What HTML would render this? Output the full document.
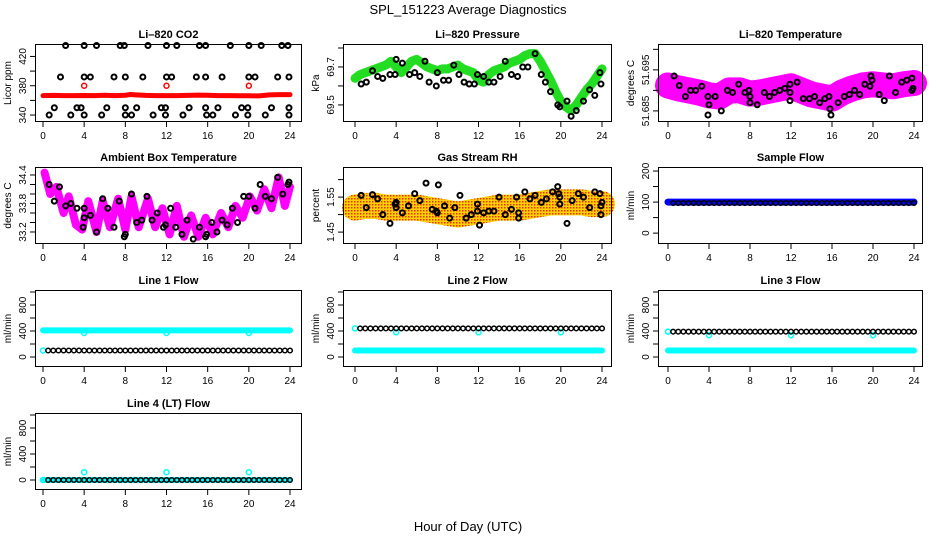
<!DOCTYPE html>
<html><head><meta charset="utf-8"><style>
html,body{margin:0;padding:0;background:#fff;}
svg{display:block;font-family:"Liberation Sans",Arial,sans-serif;}
</style></head><body>
<svg id="c" width="936" height="540" viewBox="0 0 936 540" xmlns="http://www.w3.org/2000/svg">
<defs>
<pattern id="rhpat" width="3" height="3" patternUnits="userSpaceOnUse">
<rect width="3" height="3" fill="#ffd000"/><rect width="1.5" height="1.5" fill="#e83000"/>
</pattern>
</defs>
<text x="468" y="14" text-anchor="middle" font-size="13">SPL_151223  Average Diagnostics</text>
<text x="468" y="531" text-anchor="middle" font-size="13">Hour of Day (UTC)</text>
</svg>
<script>
// ---------- data ----------
const hoursTicks = [0,4,8,12,16,20,24];
// CO2
const co2BlackX = [2.2,4,5.2,7.5,7.9,10.2,12,13,15.2,15.8,18.2,20,21.2,23.2,23.8, 1.7,4,4.6,6.9,8,9.7,12,12.5,14.9,15.8,17.4,20,20.6,22.8,23.9, 1.1,3.3,3.7,6.2,8,9.1,11.5,11.9,14.2,15.8,17,19.3,19.9,22.2,23.9, 0.6,2.7,4,5.7,8,8.6,10.7,11.9,13.6,15.9,16.5,18.7,19.9,21.6,23.9];
const co2BlackY = [435,435,435,435,435,435,435,435,435,435,435,435,435,435,435, 392,392,392,392,392,392,392,392,392,392,392,392,392,392,392, 350,350,350,350,350,350,350,350,350,350,350,350,350,350,350, 340,340,340,340,340,340,340,340,340,340,340,340,340,340,340];
const co2RedX = [0,1,2,3,4,5,6,7,8,8.5,9,10,11,12,13,14,15,16,17,18,19,20,21,22,23,24];
const co2RedY = [366.5,366.8,366.5,366.5,366.7,366.5,367,366.5,367,368,367.5,366.8,366.5,366.5,366.5,366.8,367.2,367,366.5,366.5,366.3,366.3,366.2,367.5,367.8,367.8];
const co2RedPtX = [4,12,20];
const co2RedPtY = [380,380,380];
// Pressure
const presX = [0,0.5,1,1.5,2,2.5,3,3.5,4,4.5,5,5.5,6,6.5,7,7.5,8,8.5,9,9.5,10,10.5,11,11.5,12,12.5,13,13.5,14,14.5,15,15.5,16,16.5,17,17.5,18,18.5,19,19.5,20,20.5,21,21.5,22,22.5,23,23.5,24];
const presY = [69.64,69.66,69.67,69.68,69.69,69.70,69.71,69.73,69.70,69.67,69.70,69.73,69.74,69.72,69.70,69.69,69.68,69.69,69.69,69.70,69.71,69.69,69.68,69.67,69.63,69.62,69.66,69.68,69.69,69.70,69.72,69.73,69.74,69.76,69.77,69.77,69.73,69.68,69.63,69.57,69.52,69.49,69.47,69.50,69.54,69.58,69.61,69.65,69.69];
const presBX = [0.6,1.1,1.7,2.2,2.7,3.4,3.9,4.0,4.6,5.3,5.8,6.3,6.8,7.2,7.9,8,8.6,9.1,9.6,10.1,10.6,11.1,11.6,11.9,12.5,13.0,13.5,14.1,14.6,15.2,15.8,16.3,16.8,17.5,18.1,18.5,19.0,19.7,19.9,20.6,21.0,21.5,22.2,22.8,23.3,23.8,23.9];
const presBY = [69.61,69.62,69.68,69.65,69.64,69.66,69.66,69.74,69.72,69.66,69.67,69.65,69.73,69.62,69.60,69.67,69.63,69.63,69.71,69.66,69.62,69.61,69.61,69.66,69.65,69.62,69.62,69.65,69.73,69.66,69.65,69.70,69.70,69.77,69.66,69.62,69.57,69.50,69.49,69.52,69.44,69.47,69.52,69.58,69.55,69.67,69.61];
// Li-820 temperature
const ltX = [0,1,2,3,4,5,6,7,8,9,10,11,12,13,14,15,16,17,18,19,20,21,22,23,24];
const ltY = [51.6912,51.6905,51.690,51.6895,51.6888,51.6885,51.6900,51.6900,51.6892,51.6895,51.6900,51.6905,51.6910,51.6900,51.6890,51.6885,51.6880,51.6895,51.6905,51.6912,51.6915,51.6912,51.6910,51.6915,51.6918];
const ltBX = [0.6,1.1,1.7,2.2,2.7,3.3,3.9,4.0,3.9,4.6,5.2,5.8,6.3,6.9,7.5,7.9,8.0,8.0,8.7,9.4,9.9,10.4,10.9,11.4,11.9,11.9,11.9,12.6,13.2,13.8,14.3,14.8,15.3,15.7,15.8,15.9,16.6,17.2,17.7,18.2,18.7,19.2,19.7,19.8,19.9,20.6,21.1,21.6,22.2,22.8,23.3,23.8,23.8,23.9];
const ltBY = [51.6935,51.6912,51.6885,51.690,51.690,51.691,51.6885,51.6865,51.684,51.6885,51.685,51.690,51.6895,51.6915,51.6895,51.690,51.6885,51.687,51.6865,51.6895,51.6885,51.6895,51.690,51.6905,51.6915,51.6895,51.6875,51.692,51.688,51.688,51.6885,51.687,51.688,51.6885,51.6855,51.684,51.687,51.6885,51.689,51.690,51.689,51.6915,51.691,51.6935,51.6925,51.689,51.6875,51.6935,51.6895,51.692,51.6925,51.693,51.690,51.6905];
// Ambient box temperature
const abX = [0.15,0.7,1.3,2.0,2.5,3.2,3.8,4.4,5.2,5.8,6.5,7.3,8.0,8.6,9.3,10.2,10.9,11.6,12.3,13.0,13.7,14.4,15.1,15.8,16.5,17.3,18.0,18.7,19.4,20.1,20.8,21.5,22.2,22.9,23.5,24.0];
const abY = [34.45,34.0,34.15,33.6,33.95,33.35,33.25,33.85,33.2,33.85,33.3,33.9,33.25,33.95,33.3,33.9,33.3,33.7,33.15,33.75,33.1,33.55,33.1,33.5,33.15,33.6,33.3,33.75,33.5,33.95,33.65,34.1,33.7,34.35,33.75,34.15];
const abBX = [0.6,1.1,1.6,2.2,2.7,3.3,3.9,4.0,4.0,4.6,5.2,5.8,6.3,6.9,7.4,7.9,8.0,8.6,9.1,9.6,10.1,10.6,11.1,11.7,11.9,12.4,12.9,13.5,14.0,14.6,15.2,15.8,15.9,16.4,16.9,17.4,17.9,18.4,18.9,19.5,20.0,20.6,21.1,21.6,22.2,22.8,23.3,23.8,23.9];
const abBY = [34.2,33.85,34.15,33.75,33.8,33.7,33.3,33.5,33.7,33.55,33.2,33.9,33.7,33.3,33.85,33.1,33.15,34.0,33.4,33.45,33.95,33.45,33.6,33.3,33.35,33.7,33.3,33.15,33.45,33.05,33.3,33.1,33.15,33.4,33.2,33.45,33.35,33.7,33.4,33.95,33.95,33.7,34.2,33.95,33.9,34.35,34.0,34.2,34.25];
// Gas stream RH
const rhX = [0,1,2,3,4,5,6,7,8,9,10,11,12,13,14,15,16,17,18,19,20,21,22,23,24];
const rhY = [1.52,1.525,1.525,1.52,1.52,1.52,1.52,1.515,1.51,1.505,1.50,1.505,1.51,1.515,1.52,1.52,1.52,1.525,1.53,1.535,1.535,1.535,1.535,1.53,1.53];
const rhBX = [0.6,1.1,1.7,2.2,2.7,3.4,3.9,4.0,4.0,4.6,5.2,5.8,6.3,6.9,7.5,7.9,8.0,8.1,8.7,9.2,9.7,10.2,10.8,11.3,11.9,11.9,12.1,12.5,13.0,13.5,14.0,14.6,15.2,15.7,15.9,15.9,16.5,17.0,17.5,18.1,18.6,19.2,19.7,19.8,19.9,19.9,20.6,21.1,21.7,22.2,22.8,23.3,23.8,23.9,23.9,24];
const rhBY = [1.555,1.52,1.557,1.545,1.50,1.475,1.53,1.535,1.52,1.505,1.525,1.56,1.54,1.59,1.515,1.51,1.505,1.585,1.525,1.49,1.52,1.555,1.49,1.50,1.53,1.51,1.47,1.505,1.51,1.51,1.55,1.50,1.515,1.55,1.49,1.505,1.565,1.545,1.555,1.535,1.545,1.565,1.58,1.56,1.55,1.53,1.475,1.54,1.56,1.55,1.52,1.565,1.56,1.525,1.50,1.535];
// Flows: [colored band level, black level]
const sampleFlow = [100, 97];
const line1Flow = [410, 100];
const line2Flow = [100, 440];
const line3Flow = [100, 390];
const line4Flow = [0, 0];
const line1Dips = [4,12,20]; const line1DipY = [370,370,370];
const line2Dips = [4,12,20]; const line2DipY = [380,380,380];
const line3Dips = [4,12,20]; const line3DipY = [335,335,335];
const line4Dips = [4,12,20]; const line4DipY = [120,120,120];
const flowBlackTimes = [0.5,1,1.5,2,2.5,3,3.5,4,4.5,5,5.5,6,6.5,7,7.5,8,8.5,9,9.5,10,10.5,11,11.5,12,12.5,13,13.5,14,14.5,15,15.5,16,16.5,17,17.5,18,18.5,19,19.5,20,20.5,21,21.5,22,22.5,23,23.5,24];

// ---------- drawing ----------
const svg = document.getElementById('c');
const NS = 'http://www.w3.org/2000/svg';
function mk(tag, attrs, parent){const e=document.createElementNS(NS,tag);for(const k in attrs)e.setAttribute(k,attrs[k]);(parent||svg).appendChild(e);return e;}

const cols = [{bl:35,br:302,x0:43,x1:290},{bl:343,br:612,x0:355,x1:602},{bl:658,br:923,x0:668,x1:914}];
const rows = [{bt:44,bb:122},{bt:167,bb:244},{bt:290,bb:367},{bt:413,bb:490}];

function panel(name,title,ylab,c,r,ymin,ymax,ticks,labels){
  const C=cols[c],R=rows[r];
  const g=mk('g',{});
  
  
  const sx=h=>C.x0+(C.x1-C.x0)*h/24;
  const sy=v=>R.bb-(v-ymin)/(ymax-ymin)*(R.bb-R.bt);
  const t=mk('text',{x:(C.bl+C.br)/2,y:R.bt-6,'text-anchor':'middle','font-size':11,'font-weight':'bold'},g);
  t.textContent=title;
  
  
  const yl=mk('text',{x:0,y:0,'text-anchor':'middle','font-size':10,transform:`translate(${C.bl-24},${(R.bt+R.bb)/2}) rotate(-90)`},g);
  yl.textContent=ylab;
  
  
  const plot=mk('g',{},g);
  const ax=mk('g',{stroke:'#000','stroke-width':1,fill:'none'},g);
  
  
  mk('rect',{x:C.bl+0.5,y:R.bt+0.5,width:C.br-C.bl-1,height:R.bb-R.bt-1},ax);
  hoursTicks.forEach(h=>{
    mk('line',{x1:sx(h),x2:sx(h),y1:R.bb,y2:R.bb+5},ax);
    const tl=mk('text',{x:sx(h),y:R.bb+17,'text-anchor':'middle','font-size':10,fill:'#000',stroke:'none'},g);
    tl.textContent=h;
    
    
  });
  ticks.forEach(v=>{
    mk('line',{x1:C.bl-5,x2:C.bl,y1:sy(v),y2:sy(v)},ax);
    if(labels.indexOf(v)>=0){
      const tl=mk('text',{x:0,y:0,'text-anchor':'middle','font-size':10,fill:'#000',stroke:'none',transform:`translate(${C.bl-9},${sy(v)}) rotate(-90)`},g);
      tl.textContent=String(v);
      
      
    }
  });
  return {g:plot,sx,sy,C,R};
}
function pts(P,xs,ys,col,r,sw,name){
  const g=mk('g',{fill:'none',stroke:col,'stroke-width':sw},P.g);
  
  
  xs.forEach((x,i)=>{const e=mk('circle',{cx:P.sx(x),cy:P.sy(ys[i]),r:r},g);
    
    });
}
function band(P,xs,ys,col,w,name){
  const e=mk('polyline',{points:xs.map((x,i)=>P.sx(x)+','+P.sy(ys[i])).join(' '),fill:'none',stroke:col,'stroke-width':w,'stroke-linejoin':'round','stroke-linecap':'round'},P.g);
  
  
}

// CO2
let P=panel('co2','Li\u2013820 CO2','Licor ppm',0,0,330.5,437,[340,360,380,400,420],[340,380,420]);
band(P,co2RedX,co2RedY,'#ff0000',5,'co2-red-series');
pts(P,co2RedPtX,co2RedPtY,'#ff0000',2.5,1.5,'co2-red-points');
pts(P,co2BlackX,co2BlackY,'#000',2.5,2,'co2-hourly-points');
// Pressure
P=panel('pressure','Li\u2013820 Pressure','kPa',1,0,69.41,69.821,[69.5,69.6,69.7,69.8],[69.5,69.7]);
band(P,presX,presY,'#22dd22',9,'pressure-series');
pts(P,presBX,presBY,'#000',2.5,2,'pressure-hourly-points');
// Li-820 temp
P=panel('li820-temp','Li\u2013820 Temperature','degrees C',2,0,51.6823,51.7013,[51.685,51.69,51.695,51.7],[51.685,51.695]);
band(P,ltX,ltY,'#ff00ff',26,'li820-temp-series');
pts(P,ltBX,ltBY,'#000',2.5,2,'li820-temp-hourly-points');
// Ambient
P=panel('ambient-temp','Ambient Box Temperature','degrees C',0,1,32.947,34.568,[33.2,33.4,33.6,33.8,34,34.2,34.4],[33.2,33.8,34.4]);
band(P,abX,abY,'#ff00ff',8,'ambient-temp-series');
pts(P,abBX,abBY,'#000',2.5,2,'ambient-temp-hourly-points');
// RH
P=panel('gas-rh','Gas Stream RH','percent',1,1,1.416,1.636,[1.45,1.5,1.55,1.6],[1.45,1.55]);
band(P,rhX,rhY,'url(#rhpat)',26,'gas-rh-series');
pts(P,rhBX,rhBY,'#000',2.5,2,'gas-rh-hourly-points');
// Sample flow
P=panel('sample-flow','Sample Flow','ml/min',2,1,-35,213,[0,50,100,150,200],[0,100,200]);
band(P,[0,24],[sampleFlow[0],sampleFlow[0]],'#0000ff',7,'sample-flow-series');
pts(P,flowBlackTimes,flowBlackTimes.map(()=>sampleFlow[1]),'#000',2.3,1.5,'sample-flow-hourly-points');
// Line flows
const flowTicks=[0,200,400,600,800,1000], flowLabels=[0,400,800];
function flowPanel(name,title,c,r,lv,dx,dy){
  const P=panel(name,title,'ml/min',c,r,-154,1031,flowTicks,flowLabels);
  band(P,[0,24],[lv[0],lv[0]],'#00ffff',6,name+'-series');
  pts(P,dx,dy,'#00ffff',2.5,1.5,name+'-dips');
  pts(P,[0],[lv[1]],'#00ffff',2.5,1.5,name+'-start');
  pts(P,flowBlackTimes,flowBlackTimes.map(()=>lv[1]),'#000',2.3,1.5,name+'-hourly-points');
  return P;
}
flowPanel('line1-flow','Line 1 Flow',0,2,line1Flow,line1Dips,line1DipY);
flowPanel('line2-flow','Line 2 Flow',1,2,line2Flow,line2Dips,line2DipY);
flowPanel('line3-flow','Line 3 Flow',2,2,line3Flow,line3Dips,line3DipY);
flowPanel('line4-flow','Line 4 (LT) Flow',0,3,line4Flow,line4Dips,line4DipY);
</script>
</body></html>
